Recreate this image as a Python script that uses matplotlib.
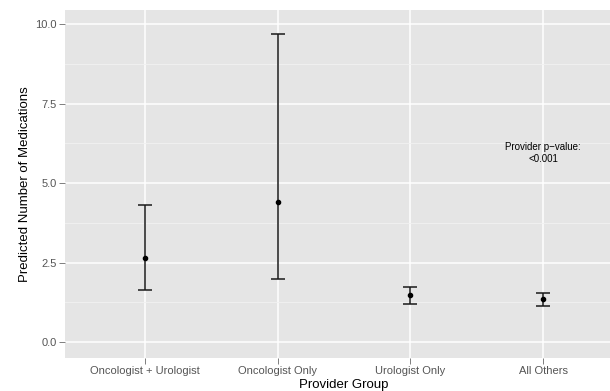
import matplotlib
matplotlib.use("Agg")
import matplotlib.pyplot as plt
from matplotlib.ticker import MultipleLocator

# values
groups = ["Oncologist + Urologist", "Oncologist Only", "Urologist Only", "All Others"]
predicted = [2.64, 4.40, 1.48, 1.35]
lower = [1.64, 1.98, 1.20, 1.13]
upper = [4.31, 9.69, 1.73, 1.54]
y_ticks = [0.0, 2.5, 5.0, 7.5, 10.0]

plt.rcParams["font.family"] = ["Liberation Sans", "DejaVu Sans"]

fig = plt.figure(figsize=(6.1, 3.91), dpi=100)
ax = fig.add_axes([65 / 610, 33 / 391, 558 / 610, 348 / 391])
ax.set_facecolor("#e5e5e5")

x = list(range(1, len(groups) + 1))
yerr = [[p - lo for p, lo in zip(predicted, lower)],
        [hi - p for p, hi in zip(predicted, upper)]]
ax.errorbar(x, predicted, yerr=yerr, fmt="o", color="black", markersize=3,
            elinewidth=1.1, capsize=5, capthick=1.1, ecolor="#1a1a1a", zorder=3)

ax.text(4, 5.95, "Provider p\u2212value:\n<0.001", ha="center", va="center",
        fontsize=7, linespacing=1.3)

ax.set_xlim(0.4, 4.6)
ax.set_ylim(-0.5, 10.45)
ax.set_xticks(x)
ax.set_xticklabels(groups)
ax.set_yticks(y_ticks)
ax.set_yticklabels([f"{v:.1f}" for v in y_ticks])
ax.yaxis.set_minor_locator(MultipleLocator(1.25))

ax.grid(which="major", color="white", linewidth=1.1)
ax.grid(which="minor", axis="y", color="#f2f2f2", linewidth=0.6)
ax.set_axisbelow(True)
for s in ax.spines.values():
    s.set_visible(False)
ax.tick_params(which="major", length=4, width=0.7, color="#7f7f7f",
               labelsize=8, labelcolor="#555555", pad=2)
ax.tick_params(which="minor", length=0)

ax.set_xlabel("Provider Group", fontsize=9.5, labelpad=2)
ax.set_ylabel("Predicted Number of Medications", fontsize=9.5, labelpad=3)

fig.savefig("out.png", dpi=100)
